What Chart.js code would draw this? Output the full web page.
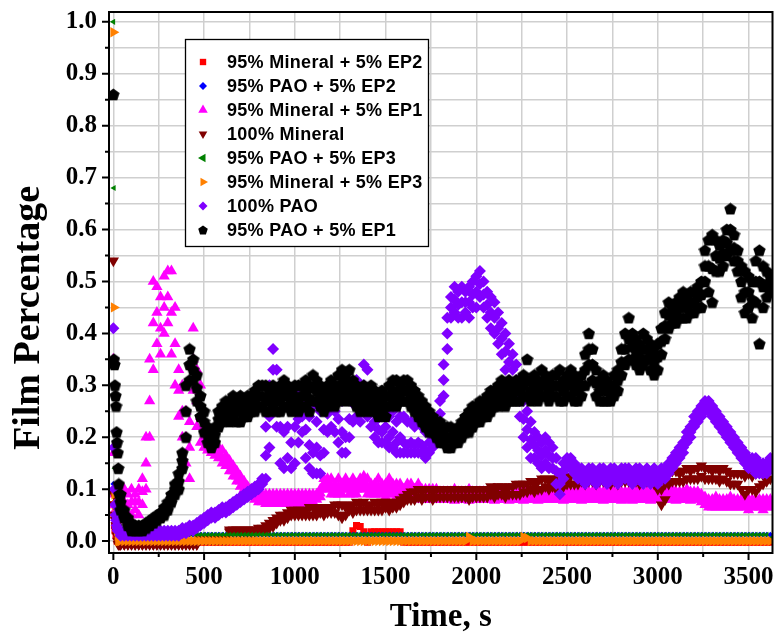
<!DOCTYPE html>
<html><head><meta charset="utf-8">
<script src="https://cdn.jsdelivr.net/npm/chart.js@4.4.1/dist/chart.umd.min.js"></script>
<style>html,body{margin:0;padding:0;background:#fff;}#wrap{width:779px;height:637px;}</style>
</head><body><div id="wrap"><canvas id="c" width="779" height="637"></canvas></div>
<script>
// ---------- DATA ----------
const xTickValues = [0,250,500,750,1000,1250,1500,1750,2000,2250,2500,2750,3000,3250,3500];
const yTickValues = [0,0.05,0.1,0.15,0.2,0.25,0.3,0.35,0.4,0.45,0.5,0.55,0.6,0.65,0.7,0.75,0.8,0.85,0.9,0.95,1.0];
const xTitle = 'Time, s';
const yTitle = 'Film Percentage';

const earlyTime = [0,3,6,9,12,15,18,21,24,27,30,33];
const earlyBlack   = [0.86,0.35,0.34,0.30,0.28,0.26,0.21,0.19,0.17,0.14,0.11,0.09];
const earlyPurple  = [0.41,0.18,0.10,0.07,0.05,0.04,0.03,0.025,0.02,0.02,0.02,0.02];
const earlyOrange  = [0.98,0.45,0.09,0.07,0.05,0.04,0.03,0.02,0.01,0.0,0.0,0.0];
const earlyGreen   = [1.00,0.68,0.30,0.14,0.10,0.07,0.05,0.04,0.03,0.02,0.015,0.012];
const earlyBrown   = [0.54,0.09,0.07,0.05,0.04,0.03,0.02,0.01,0.0,-0.006,-0.006,-0.006];
const earlyMagenta = [0.35,0.17,0.09,0.07,0.06,0.05,0.04,0.04,0.05,0.06,0.07,0.08];
const earlyBlue    = [0.11,0.07,0.05,0.04,0.03,0.02,0.02,0.015,0.012,0.012,0.012,0.012];
const earlyRed     = [0.07,0.05,0.03,0.02,0.02,0.01,0.01,0.0,0.0,0.0,0.0,0.0];

const time = [40,60,80,100,120,140,160,180,200,220,
240,260,280,300,320,340,360,380,400,420,
440,460,480,500,520,540,560,580,600,620,
640,660,680,700,720,740,760,780,800,820,
840,860,880,900,920,940,960,980,1000,1020,
1040,1060,1080,1100,1120,1140,1160,1180,1200,1220,
1240,1260,1280,1300,1320,1340,1360,1380,1400,1420,
1440,1460,1480,1500,1520,1540,1560,1580,1600,1620,
1640,1660,1680,1700,1720,1740,1760,1780,1800,1820,
1840,1860,1880,1900,1920,1940,1960,1980,2000,2020,
2040,2060,2080,2100,2120,2140,2160,2180,2200,2220,
2240,2260,2280,2300,2320,2340,2360,2380,2400,2420,
2440,2460,2480,2500,2520,2540,2560,2580,2600,2620,
2640,2660,2680,2700,2720,2740,2760,2780,2800,2820,
2840,2860,2880,2900,2920,2940,2960,2980,3000,3020,
3040,3060,3080,3100,3120,3140,3160,3180,3200,3220,
3240,3260,3280,3300,3320,3340,3360,3380,3400,3420,
3440,3460,3480,3500,3520,3540,3560,3580,3600,3620];

const blackHi = [0.09,0.06,0.045,0.035,0.03,0.03,0.03,0.035,0.04,0.045,
0.05,0.055,0.065,0.075,0.09,0.11,0.13,0.17,0.30,0.37,
0.35,0.32,0.28,0.25,0.22,0.21,0.22,0.25,0.26,0.27,
0.27,0.28,0.27,0.28,0.27,0.28,0.28,0.29,0.30,0.30,
0.30,0.29,0.30,0.29,0.30,0.31,0.30,0.29,0.30,0.30,
0.30,0.31,0.30,0.32,0.31,0.30,0.29,0.30,0.31,0.30,
0.32,0.33,0.32,0.33,0.31,0.30,0.29,0.30,0.29,0.30,
0.29,0.28,0.29,0.28,0.30,0.31,0.31,0.30,0.31,0.31,
0.30,0.29,0.28,0.27,0.26,0.25,0.24,0.23,0.23,0.22,
0.22,0.22,0.21,0.22,0.23,0.24,0.25,0.26,0.26,0.27,
0.27,0.28,0.29,0.29,0.30,0.31,0.30,0.31,0.30,0.31,
0.31,0.32,0.35,0.31,0.32,0.31,0.33,0.32,0.31,0.32,
0.32,0.33,0.31,0.32,0.33,0.32,0.31,0.32,0.36,0.40,
0.37,0.33,0.31,0.32,0.31,0.30,0.32,0.33,0.37,0.40,
0.43,0.40,0.39,0.38,0.40,0.39,0.38,0.37,0.38,0.41,
0.44,0.46,0.45,0.46,0.47,0.48,0.47,0.48,0.48,0.49,
0.50,0.56,0.58,0.59,0.58,0.57,0.58,0.60,0.64,0.59,
0.56,0.53,0.52,0.51,0.50,0.54,0.56,0.53,0.52,0.51];
const blackMid = [0.075,0.05,0.038,0.028,0.025,0.025,0.025,0.03,0.035,0.04,
0.045,0.05,0.058,0.068,0.082,0.10,0.115,0.155,0.25,0.34,
0.33,0.295,0.26,0.23,0.205,0.195,0.205,0.235,0.245,0.255,
0.25,0.26,0.25,0.255,0.255,0.26,0.265,0.27,0.28,0.28,
0.275,0.27,0.28,0.27,0.275,0.285,0.28,0.27,0.28,0.275,
0.28,0.285,0.275,0.295,0.29,0.28,0.27,0.28,0.29,0.28,
0.295,0.305,0.295,0.305,0.29,0.28,0.27,0.28,0.27,0.28,
0.27,0.26,0.27,0.26,0.28,0.29,0.285,0.285,0.29,0.29,
0.28,0.27,0.26,0.25,0.24,0.23,0.225,0.215,0.21,0.205,
0.20,0.20,0.20,0.205,0.215,0.225,0.23,0.24,0.245,0.25,
0.255,0.26,0.27,0.275,0.28,0.29,0.28,0.29,0.285,0.29,
0.29,0.30,0.31,0.29,0.30,0.29,0.305,0.30,0.29,0.30,
0.30,0.30,0.29,0.30,0.305,0.295,0.29,0.30,0.33,0.37,
0.34,0.305,0.29,0.295,0.29,0.285,0.30,0.31,0.345,0.37,
0.39,0.375,0.365,0.355,0.37,0.37,0.355,0.345,0.355,0.385,
0.415,0.435,0.435,0.44,0.45,0.455,0.45,0.46,0.46,0.47,
0.475,0.53,0.53,0.525,0.55,0.545,0.555,0.575,0.60,0.565,
0.54,0.50,0.48,0.48,0.465,0.50,0.50,0.49,0.495,0.495];
const blackLo = [0.06,0.045,0.03,0.02,0.02,0.02,0.02,0.025,0.03,0.035,
0.04,0.045,0.05,0.06,0.075,0.09,0.10,0.14,0.20,0.31,
0.31,0.27,0.24,0.21,0.19,0.18,0.19,0.22,0.23,0.24,
0.23,0.24,0.23,0.23,0.24,0.24,0.25,0.25,0.26,0.26,
0.25,0.25,0.26,0.25,0.25,0.26,0.26,0.25,0.26,0.25,
0.26,0.26,0.25,0.27,0.27,0.26,0.25,0.26,0.27,0.26,
0.27,0.28,0.27,0.28,0.27,0.26,0.25,0.26,0.25,0.26,
0.25,0.24,0.25,0.24,0.26,0.27,0.26,0.27,0.27,0.27,
0.26,0.25,0.24,0.23,0.22,0.21,0.21,0.20,0.19,0.19,
0.18,0.18,0.19,0.19,0.20,0.21,0.21,0.22,0.23,0.23,
0.24,0.24,0.25,0.26,0.26,0.27,0.26,0.27,0.27,0.27,
0.27,0.28,0.28,0.27,0.28,0.27,0.28,0.28,0.27,0.28,
0.28,0.27,0.27,0.28,0.28,0.27,0.27,0.28,0.30,0.34,
0.31,0.28,0.27,0.27,0.27,0.27,0.28,0.29,0.32,0.34,
0.35,0.35,0.34,0.33,0.34,0.35,0.33,0.32,0.33,0.36,
0.39,0.41,0.42,0.42,0.43,0.43,0.43,0.44,0.44,0.45,
0.45,0.50,0.48,0.46,0.52,0.52,0.53,0.55,0.56,0.54,
0.52,0.47,0.44,0.45,0.43,0.46,0.38,0.45,0.47,0.48];

const purpleHi = [0.02,0.02,0.02,0.02,0.02,0.02,0.02,0.02,0.02,0.02,
0.02,0.02,0.02,0.02,0.02,0.02,0.02,0.025,0.025,0.03,
0.03,0.035,0.04,0.045,0.05,0.055,0.055,0.06,0.065,0.065,
0.07,0.075,0.08,0.085,0.09,0.095,0.10,0.105,0.11,0.12,
0.22,0.30,0.37,0.33,0.30,0.29,0.28,0.26,0.29,0.28,
0.27,0.26,0.24,0.26,0.23,0.25,0.27,0.29,0.30,0.29,
0.28,0.27,0.28,0.29,0.30,0.31,0.30,0.34,0.33,0.28,
0.26,0.25,0.24,0.25,0.24,0.25,0.23,0.24,0.24,0.23,
0.23,0.22,0.23,0.22,0.21,0.22,0.22,0.22,0.27,0.34,
0.43,0.47,0.49,0.48,0.49,0.48,0.49,0.50,0.51,0.52,
0.50,0.48,0.47,0.46,0.44,0.42,0.40,0.38,0.36,0.34,
0.30,0.27,0.25,0.23,0.21,0.20,0.19,0.20,0.19,0.18,
0.16,0.13,0.15,0.16,0.16,0.15,0.14,0.14,0.13,0.14,
0.14,0.13,0.14,0.14,0.13,0.14,0.14,0.13,0.14,0.14,
0.14,0.13,0.14,0.14,0.13,0.14,0.13,0.14,0.13,0.14,
0.14,0.15,0.16,0.17,0.18,0.19,0.21,0.22,0.24,0.25,
0.26,0.27,0.27,0.26,0.25,0.24,0.23,0.22,0.21,0.20,
0.19,0.18,0.17,0.16,0.16,0.16,0.15,0.15,0.15,0.16];
const purpleMid = [0.015,0.015,0.015,0.015,0.015,0.015,0.015,0.015,0.015,0.015,
0.015,0.015,0.015,0.015,0.015,0.015,0.015,0.02,0.02,0.025,
0.025,0.03,0.035,0.04,0.045,0.05,0.05,0.055,0.06,0.06,
0.065,0.07,0.075,0.08,0.085,0.09,0.095,0.10,0.105,0.115,
0.165,0.24,0.33,0.285,0.22,0.21,0.22,0.19,0.22,0.235,
0.24,0.215,0.185,0.17,0.18,0.165,0.215,0.245,0.26,0.25,
0.235,0.21,0.20,0.235,0.265,0.28,0.27,0.30,0.28,0.255,
0.23,0.215,0.21,0.22,0.20,0.21,0.19,0.20,0.19,0.185,
0.19,0.185,0.19,0.185,0.175,0.19,0.20,0.205,0.245,0.31,
0.40,0.45,0.465,0.455,0.46,0.46,0.46,0.475,0.48,0.495,
0.475,0.455,0.44,0.43,0.41,0.39,0.365,0.345,0.33,0.31,
0.27,0.235,0.215,0.195,0.185,0.175,0.165,0.175,0.165,0.16,
0.135,0.11,0.135,0.15,0.15,0.14,0.13,0.13,0.12,0.13,
0.13,0.12,0.13,0.13,0.12,0.13,0.13,0.12,0.13,0.13,
0.13,0.12,0.13,0.13,0.12,0.13,0.12,0.13,0.12,0.13,
0.13,0.14,0.15,0.16,0.17,0.18,0.20,0.21,0.23,0.24,
0.25,0.26,0.26,0.25,0.24,0.23,0.22,0.21,0.20,0.19,
0.18,0.17,0.16,0.15,0.15,0.145,0.14,0.14,0.14,0.15];
const purpleLo = [0.01,0.01,0.01,0.01,0.01,0.01,0.01,0.01,0.01,0.01,
0.01,0.01,0.01,0.01,0.01,0.01,0.01,0.015,0.015,0.02,
0.02,0.025,0.03,0.035,0.04,0.045,0.045,0.05,0.055,0.055,
0.06,0.065,0.07,0.075,0.08,0.085,0.09,0.095,0.10,0.11,
0.12,0.18,0.28,0.22,0.15,0.14,0.16,0.14,0.15,0.19,
0.21,0.16,0.14,0.13,0.13,0.13,0.17,0.21,0.22,0.21,
0.19,0.17,0.17,0.20,0.23,0.24,0.23,0.25,0.24,0.22,
0.20,0.19,0.19,0.19,0.18,0.18,0.17,0.17,0.17,0.17,
0.17,0.17,0.17,0.17,0.16,0.17,0.18,0.19,0.22,0.28,
0.37,0.43,0.44,0.43,0.43,0.44,0.43,0.45,0.45,0.47,
0.45,0.43,0.41,0.40,0.38,0.36,0.33,0.31,0.30,0.28,
0.24,0.20,0.18,0.16,0.16,0.15,0.14,0.15,0.14,0.14,
0.11,0.09,0.12,0.14,0.14,0.13,0.12,0.12,0.11,0.12,
0.12,0.11,0.12,0.12,0.11,0.12,0.12,0.11,0.12,0.12,
0.12,0.11,0.12,0.12,0.11,0.12,0.11,0.12,0.11,0.12,
0.12,0.13,0.14,0.15,0.16,0.17,0.19,0.20,0.22,0.23,
0.24,0.25,0.25,0.24,0.23,0.22,0.21,0.20,0.19,0.18,
0.17,0.16,0.15,0.14,0.14,0.13,0.13,0.13,0.13,0.14];

const magentaHi = [0.10,0.10,0.09,0.10,0.09,0.10,0.12,0.20,0.35,0.50,
0.49,0.47,0.51,0.52,0.52,0.45,0.33,0.30,0.25,0.23,
0.41,0.33,0.30,0.22,0.21,0.20,0.19,0.18,0.175,0.165,
0.155,0.145,0.135,0.125,0.115,0.105,0.10,0.095,0.09,0.09,
0.09,0.09,0.09,0.09,0.09,0.09,0.09,0.09,0.09,0.09,
0.09,0.09,0.09,0.09,0.09,0.10,0.12,0.12,0.12,0.11,
0.12,0.11,0.12,0.11,0.12,0.11,0.12,0.125,0.12,0.11,
0.11,0.12,0.11,0.11,0.12,0.11,0.11,0.11,0.10,0.11,
0.11,0.10,0.11,0.10,0.10,0.10,0.10,0.10,0.095,0.095,
0.095,0.095,0.10,0.095,0.095,0.095,0.10,0.095,0.095,0.095,
0.095,0.095,0.095,0.10,0.095,0.095,0.095,0.10,0.095,0.095,
0.095,0.10,0.095,0.095,0.10,0.095,0.095,0.095,0.10,0.095,
0.095,0.095,0.10,0.095,0.095,0.095,0.095,0.10,0.095,0.095,
0.095,0.10,0.095,0.095,0.095,0.10,0.095,0.095,0.095,0.095,
0.095,0.095,0.095,0.10,0.095,0.095,0.095,0.095,0.10,0.095,
0.095,0.095,0.10,0.095,0.095,0.095,0.10,0.095,0.095,0.095,
0.09,0.085,0.08,0.08,0.085,0.08,0.08,0.08,0.085,0.08,
0.08,0.08,0.085,0.08,0.08,0.08,0.08,0.08,0.08,0.08];
const magentaMid = [0.08,0.075,0.07,0.075,0.075,0.075,0.095,0.15,0.27,0.42,
0.44,0.41,0.45,0.47,0.44,0.38,0.29,0.25,0.20,0.18,
0.35,0.27,0.24,0.20,0.19,0.185,0.18,0.17,0.16,0.155,
0.145,0.135,0.125,0.115,0.108,0.098,0.092,0.088,0.083,0.083,
0.083,0.083,0.083,0.083,0.083,0.083,0.083,0.083,0.083,0.083,
0.083,0.083,0.083,0.083,0.085,0.092,0.11,0.11,0.105,0.10,
0.105,0.10,0.11,0.10,0.105,0.10,0.11,0.112,0.105,0.10,
0.10,0.105,0.10,0.098,0.105,0.10,0.098,0.098,0.093,0.098,
0.098,0.093,0.098,0.09,0.09,0.09,0.09,0.09,0.088,0.088,
0.088,0.088,0.088,0.088,0.088,0.088,0.088,0.088,0.088,0.088,
0.088,0.088,0.088,0.088,0.088,0.088,0.088,0.088,0.088,0.088,
0.088,0.088,0.088,0.088,0.088,0.088,0.088,0.088,0.088,0.088,
0.088,0.088,0.088,0.088,0.088,0.088,0.088,0.088,0.088,0.088,
0.088,0.088,0.088,0.088,0.088,0.088,0.088,0.088,0.088,0.088,
0.088,0.088,0.088,0.088,0.088,0.088,0.088,0.088,0.088,0.088,
0.088,0.088,0.088,0.088,0.088,0.088,0.088,0.088,0.088,0.088,
0.083,0.078,0.073,0.073,0.073,0.073,0.073,0.073,0.073,0.073,
0.073,0.073,0.073,0.07,0.073,0.073,0.073,0.068,0.073,0.073];
const magentaLo = [0.06,0.05,0.05,0.05,0.06,0.05,0.07,0.10,0.20,0.33,
0.38,0.36,0.40,0.42,0.36,0.30,0.24,0.20,0.15,0.12,
0.29,0.22,0.19,0.18,0.175,0.17,0.165,0.16,0.15,0.145,
0.135,0.125,0.115,0.105,0.10,0.09,0.085,0.08,0.075,0.075,
0.072,0.072,0.072,0.072,0.072,0.072,0.072,0.072,0.072,0.072,
0.072,0.072,0.075,0.075,0.08,0.085,0.10,0.10,0.09,0.09,
0.09,0.09,0.10,0.09,0.09,0.09,0.10,0.10,0.09,0.09,
0.09,0.09,0.09,0.085,0.09,0.09,0.085,0.085,0.085,0.085,
0.085,0.085,0.085,0.08,0.08,0.08,0.08,0.08,0.08,0.08,
0.08,0.08,0.078,0.08,0.08,0.08,0.078,0.08,0.08,0.08,
0.08,0.08,0.08,0.078,0.08,0.08,0.08,0.078,0.08,0.08,
0.08,0.078,0.08,0.08,0.08,0.078,0.08,0.08,0.08,0.08,
0.08,0.08,0.078,0.08,0.08,0.08,0.08,0.078,0.08,0.08,
0.08,0.08,0.08,0.078,0.08,0.08,0.08,0.08,0.078,0.08,
0.08,0.078,0.08,0.08,0.08,0.08,0.078,0.08,0.08,0.08,
0.08,0.08,0.08,0.078,0.08,0.08,0.08,0.078,0.08,0.08,
0.075,0.07,0.065,0.065,0.065,0.065,0.065,0.065,0.065,0.065,
0.065,0.065,0.065,0.06,0.065,0.065,0.065,0.06,0.065,0.065];

const brownHi = [-0.006,-0.006,-0.006,-0.006,-0.006,-0.006,-0.006,-0.006,-0.006,-0.006,
-0.006,-0.006,-0.006,-0.006,-0.006,-0.006,-0.006,-0.006,-0.006,-0.006,
-0.006,-0.006,0.004,0.004,0.004,0.004,0.004,0.004,0.004,0.004,
0.022,0.022,0.022,0.022,0.022,0.022,0.022,0.022,0.025,0.025,
0.03,0.035,0.04,0.045,0.05,0.05,0.055,0.06,0.06,0.06,
0.06,0.06,0.065,0.065,0.06,0.065,0.06,0.065,0.065,0.07,
0.07,0.07,0.065,0.07,0.07,0.075,0.07,0.075,0.07,0.07,
0.075,0.07,0.075,0.075,0.07,0.075,0.075,0.08,0.085,0.09,
0.095,0.095,0.10,0.095,0.10,0.10,0.095,0.10,0.10,0.10,
0.10,0.10,0.10,0.10,0.10,0.10,0.10,0.10,0.10,0.10,
0.10,0.10,0.105,0.10,0.105,0.105,0.10,0.105,0.105,0.11,
0.11,0.11,0.11,0.115,0.11,0.115,0.12,0.12,0.115,0.12,
0.12,0.12,0.125,0.12,0.125,0.13,0.125,0.13,0.13,0.13,
0.13,0.13,0.135,0.13,0.135,0.13,0.135,0.13,0.135,0.13,
0.135,0.13,0.135,0.13,0.135,0.13,0.135,0.13,0.13,0.10,
0.11,0.13,0.135,0.135,0.13,0.135,0.14,0.135,0.14,0.14,
0.145,0.14,0.14,0.135,0.14,0.135,0.14,0.135,0.13,0.13,
0.13,0.13,0.125,0.13,0.125,0.13,0.135,0.13,0.135,0.14];
const brownLo = [-0.006,-0.006,-0.006,-0.006,-0.006,-0.006,-0.006,-0.006,-0.006,-0.006,
-0.006,-0.006,-0.006,-0.006,-0.006,-0.006,-0.006,-0.006,-0.006,-0.006,
-0.006,-0.006,0.004,0.004,0.004,0.004,0.004,0.004,0.004,0.004,
0.018,0.018,0.018,0.018,0.018,0.018,0.018,0.018,0.02,0.02,
0.02,0.025,0.028,0.035,0.04,0.04,0.045,0.05,0.05,0.05,
0.05,0.05,0.05,0.05,0.05,0.055,0.05,0.055,0.055,0.055,
0.05,0.045,0.05,0.06,0.055,0.06,0.06,0.06,0.06,0.06,
0.06,0.06,0.06,0.065,0.06,0.065,0.065,0.07,0.075,0.08,
0.08,0.08,0.085,0.08,0.085,0.085,0.08,0.085,0.085,0.085,
0.085,0.085,0.085,0.085,0.085,0.085,0.08,0.085,0.085,0.085,
0.085,0.085,0.09,0.085,0.09,0.09,0.085,0.09,0.09,0.09,
0.09,0.095,0.095,0.10,0.095,0.10,0.10,0.105,0.10,0.105,
0.10,0.105,0.105,0.11,0.11,0.11,0.11,0.115,0.11,0.115,
0.115,0.11,0.115,0.115,0.115,0.11,0.115,0.11,0.115,0.115,
0.115,0.115,0.115,0.11,0.115,0.115,0.115,0.11,0.10,0.07,
0.08,0.11,0.115,0.115,0.115,0.115,0.12,0.12,0.12,0.12,
0.125,0.12,0.12,0.12,0.12,0.115,0.12,0.115,0.11,0.11,
0.11,0.10,0.09,0.10,0.10,0.095,0.105,0.11,0.115,0.12];

const greenVals = [0.012,0.012,0.012,0.012,0.012,0.012,0.012,0.012,0.012,0.012,
0.012,0.012,0.012,0.012,0.012,0.012,0.012,0.012,0.012,0.012,
0.012,0.012,0.012,0.012,0.012,0.012,0.012,0.012,0.012,0.012,
0.012,0.012,0.012,0.012,0.012,0.012,0.012,0.012,0.012,0.012,
0.012,0.012,0.012,0.012,0.012,0.012,0.012,0.012,0.012,0.012,
0.012,0.012,0.012,0.012,0.012,0.012,0.012,0.012,0.012,0.012,
0.012,0.012,0.012,0.012,0.012,0.012,0.012,0.012,0.012,0.012,
0.012,0.012,0.012,0.012,0.012,0.012,0.012,0.012,0.012,0.012,
0.012,0.012,0.012,0.012,0.012,0.012,0.012,0.012,0.012,0.012,
0.012,0.012,0.012,0.012,0.012,0.012,0.012,0.012,0.012,0.012,
0.012,0.012,0.012,0.012,0.012,0.012,0.012,0.012,0.012,0.012,
0.012,0.012,0.012,0.012,0.012,0.012,0.012,0.012,0.012,0.012,
0.012,0.012,0.012,0.012,0.012,0.012,0.012,0.012,0.012,0.012,
0.012,0.012,0.012,0.012,0.012,0.012,0.012,0.012,0.012,0.012,
0.012,0.012,0.012,0.012,0.012,0.012,0.012,0.012,0.012,0.012,
0.012,0.012,0.012,0.012,0.012,0.012,0.012,0.012,0.012,0.012,
0.012,0.012,0.012,0.012,0.012,0.012,0.012,0.012,0.012,0.012,
0.012,0.012,0.012,0.012,0.012,0.012,0.012,0.012,0.012,0.005];
const orangeVals = [0,0,0,0,0,0,0,0,0,0,
0,0,0,0,0,0,0,0,0,0,
0,0,0,0,0,0,0,0,0,0,
0,0,0,0,0,0,0,0,0,0,
0,0,0,0,0,0,0,0,0,0,
0,0,0,0,0,0,0,0,0,0,
0,0,0,0,0,0,0,0,0,0,
0,0,0,0,0,0,0,0,0,0,
0,0,0,0,0,0,0,0,0,0,
0,0,0,0,0,0,0.008,0,0,0,
0,0,0,0,0,0,0,0,0,0,
0,0.008,0.006,0,0,0,0,0,0,0,
0,0,0,0,0,0,0,0,0,0,
0,0,0,0,0,0,0,0,0,0,
0,0,0,0,0,0,0,0,0,0,
0,0,0,0,0,0,0,0,0,0,
0,0,0,0,0,0,0,0,0,0,
0,0,0,0,0,0,0,0,0,0];
const blueVals = [0.012,0.012,0.012,0.012,0.012,0.012,0.012,0.012,0.012,0.012,
0.012,0.012,0.012,0.012,0.012,0.012,0.012,0.012,0.012,0.012,
0.012,0.012,0.012,0.012,0.012,0.012,0.012,0.012,0.012,0.012,
0.012,0.012,0.012,0.012,0.012,0.012,0.012,0.012,0.012,0.012,
0.012,0.012,0.012,0.012,0.012,0.012,0.012,0.012,0.012,0.012,
0.012,0.012,0.012,0.012,0.012,0.012,0.012,0.012,0.012,0.012,
0.012,0.012,0.012,0.012,0.012,0.012,0.012,0.012,0.012,0.012,
0.012,0.012,0.012,0.012,0.012,0.012,0.012,0.012,0.012,0.012,
0.012,0.012,0.012,0.012,0.012,0.012,0.012,0.012,0.012,0.012,
0.012,0.012,0.012,0.012,0.012,0.012,0.012,0.012,0.012,0.012,
0.012,0.012,0.012,0.012,0.012,0.012,0.012,0.012,0.012,0.012,
0.012,0.012,0.012,0.012,0.012,0.012,0.012,0.012,0.012,0.012,
0.012,0.012,0.012,0.012,0.012,0.012,0.012,0.012,0.012,0.012,
0.012,0.012,0.012,0.012,0.012,0.012,0.012,0.012,0.012,0.012,
0.012,0.012,0.012,0.012,0.012,0.012,0.012,0.012,0.012,0.012,
0.012,0.012,0.012,0.012,0.012,0.012,0.012,0.012,0.012,0.012,
0.012,0.012,0.012,0.012,0.012,0.012,0.012,0.012,0.012,0.012,
0.012,0.012,0.012,0.012,0.012,0.012,0.012,0.012,0.012,0.012];
const redVals = [-0.002,-0.002,-0.002,-0.002,-0.002,-0.002,-0.002,-0.002,-0.002,-0.002,
-0.002,-0.002,-0.002,-0.002,-0.002,-0.002,-0.002,-0.002,-0.002,-0.002,
-0.002,-0.002,-0.002,-0.002,-0.002,-0.002,-0.002,-0.002,-0.002,-0.002,
-0.002,-0.002,-0.002,-0.002,-0.002,-0.002,-0.002,-0.002,-0.002,-0.002,
-0.002,-0.002,-0.002,-0.002,-0.002,-0.002,-0.002,-0.002,-0.002,-0.002,
-0.002,-0.002,-0.002,-0.002,-0.002,-0.002,-0.002,-0.002,-0.002,-0.002,
-0.002,-0.002,-0.002,-0.002,0.02,0.03,0.028,0.018,-0.002,0.018,
0.018,0.018,0.018,0.018,0.018,0.018,0.018,0.018,-0.002,-0.002,
-0.002,-0.002,-0.002,-0.002,-0.002,-0.002,-0.002,-0.002,-0.002,-0.002,
-0.002,-0.002,-0.002,-0.002,-0.002,-0.002,-0.002,-0.002,-0.002,-0.002,
-0.002,-0.002,-0.002,-0.002,-0.002,-0.002,-0.002,-0.002,-0.002,-0.002,
-0.002,-0.002,-0.002,-0.002,-0.002,-0.002,-0.002,-0.002,-0.002,-0.002,
-0.002,-0.002,-0.002,-0.002,-0.002,-0.002,-0.002,-0.002,-0.002,-0.002,
-0.002,-0.002,-0.002,-0.002,-0.002,-0.002,-0.002,-0.002,-0.002,-0.002,
-0.002,-0.002,-0.002,-0.002,-0.002,-0.002,-0.002,-0.002,-0.002,-0.002,
-0.002,-0.002,-0.002,-0.002,-0.002,-0.002,-0.002,-0.002,-0.002,-0.002,
-0.002,-0.002,-0.002,-0.002,-0.002,-0.002,-0.002,-0.002,-0.002,-0.002,
-0.002,-0.002,-0.002,-0.002,-0.002,-0.002,-0.002,-0.002,-0.002,-0.002];

// ---------- STYLE ----------
function makePentagon(size, color) {
  const c = document.createElement('canvas');
  c.width = size; c.height = size;
  const g = c.getContext('2d');
  g.fillStyle = color;
  g.beginPath();
  const r = size / 2, cx = size / 2, cy = size / 2 + size * 0.04;
  for (let i = 0; i < 5; i++) {
    const a = -Math.PI / 2 + i * 2 * Math.PI / 5;
    const px = cx + r * Math.cos(a), py = cy + r * Math.sin(a);
    if (i === 0) g.moveTo(px, py); else g.lineTo(px, py);
  }
  g.closePath(); g.fill();
  return c;
}
const PENT = makePentagon(13, '#000000');
const PENT_SMALL = makePentagon(10, '#000000');

// first entry is drawn on top
const seriesDefs = [
  {label:'95% PAO + 5% EP1',     color:'#000000', style:PENT,      legendStyle:PENT_SMALL, rot:0,   r:6.5, lr:5,   early:earlyBlack,   values:[blackLo, blackMid, blackHi]},
  {label:'100% PAO',             color:'#8000ff', style:'rectRot', rot:0,   r:6,   lr:4.5, early:earlyPurple,  values:[purpleLo, purpleMid, purpleHi]},
  {label:'95% Mineral + 5% EP3', color:'#ff8000', style:'triangle',rot:90,  r:6,   lr:5,   early:earlyOrange,  values:[orangeVals]},
  {label:'95% PAO + 5% EP3',     color:'#008000', style:'triangle',rot:270, r:3.5, lr:5,   early:earlyGreen,   values:[greenVals]},
  {label:'100% Mineral',         color:'#800000', style:'triangle',rot:180, r:6.5, lr:5,   early:earlyBrown,   values:[brownLo, brownHi]},
  {label:'95% Mineral + 5% EP1', color:'#ff00ff', style:'triangle',rot:0,   r:6.5, lr:5.5, early:earlyMagenta, values:[magentaLo, magentaMid, magentaHi]},
  {label:'95% PAO + 5% EP2',     color:'#0000ff', style:'rectRot', rot:0,   r:3,   lr:4,   early:earlyBlue,    values:[blueVals]},
  {label:'95% Mineral + 5% EP2', color:'#ff0000', style:'rect',    rot:0,   r:5,   lr:4.5, early:earlyRed,     values:[redVals]}
];

const datasets = seriesDefs.map(s => {
  const data = [];
  s.early.forEach((v, i) => data.push({x: earlyTime[i], y: v}));
  s.values.forEach(arr => arr.forEach((v, i) => data.push({x: time[i], y: v})));
  return {
    label: s.label, data, showLine: false,
    pointStyle: s.style, pointRotation: s.rot, pointRadius: s.r, pointHoverRadius: s.r,
    pointBackgroundColor: s.color, pointBorderColor: s.color, pointBorderWidth: 0
  };
});

const serif = '"Liberation Serif", "Times New Roman", serif';

const decor = {
  id: 'decor',
  afterDraw(chart) {
    const {ctx, chartArea: a, scales: {x, y}} = chart;
    ctx.save();
    ctx.strokeStyle = '#000'; ctx.lineWidth = 2;
    ctx.beginPath();
    xTickValues.forEach(v => {
      const px = x.getPixelForValue(v);
      const len = (v % 500 === 0) ? 7 : 4;
      ctx.moveTo(px, a.bottom); ctx.lineTo(px, a.bottom + len);
    });
    yTickValues.forEach(v => {
      const py = y.getPixelForValue(v);
      const len = (Math.round(v * 100) % 10 === 0) ? 7 : 4;
      ctx.moveTo(a.left, py); ctx.lineTo(a.left - len, py);
    });
    ctx.stroke();
    ctx.lineWidth = 2;
    ctx.strokeRect(a.left, a.top, a.right - a.left, a.bottom - a.top);

    // y axis title (sits lower than the plot centre in the reference)
    ctx.save();
    ctx.translate(29, 318);
    ctx.rotate(-Math.PI / 2);
    ctx.fillStyle = '#000';
    ctx.font = 'bold 38px ' + serif;
    ctx.textAlign = 'center'; ctx.textBaseline = 'middle';
    ctx.fillText(yTitle, 0, 0);
    ctx.restore();

    // legend box
    ctx.fillStyle = '#ffffff';
    ctx.fillRect(185, 39, 243, 207);
    ctx.lineWidth = 1.3; ctx.strokeStyle = '#000';
    ctx.strokeRect(185.5, 39.5, 243, 207);
    const order = seriesDefs.slice().reverse();
    ctx.font = 'bold 18px "Liberation Sans", Arial, sans-serif';
    try { ctx.letterSpacing = '0.3px'; } catch (e) {}
    ctx.textBaseline = 'middle'; ctx.textAlign = 'left';
    order.forEach((s, i) => {
      const yy = 62 + i * 24;
      ctx.fillStyle = s.color; ctx.strokeStyle = s.color;
      Chart.helpers.drawPoint(ctx, {pointStyle: s.legendStyle || s.style, rotation: s.rot, radius: s.lr, borderWidth: 0}, 203, yy);
      ctx.fillStyle = '#000';
      ctx.fillText(s.label, 227, yy + 1);
    });
    ctx.restore();
  }
};

const tickFont = {family: serif, weight: 'bold', size: 25};

new Chart(document.getElementById('c'), {
  type: 'scatter',
  data: {datasets},
  options: {
    responsive: false, animation: false, devicePixelRatio: 1,
    layout: {padding: {top: 12, right: 4, left: 0, bottom: 0}},
    plugins: {legend: {display: false}, tooltip: {enabled: false}},
    scales: {
      x: {
        type: 'linear', min: -24, max: 3632,
        afterBuildTicks: s => { s.ticks = xTickValues.map(v => ({value: v})); },
        afterFit: s => { s.height = 84; s.paddingLeft = 0; s.paddingRight = 0; },
        ticks: {autoSkip: false, maxRotation: 0, padding: 10, color: '#000', font: tickFont,
          callback: v => (v % 500 === 0 ? String(v) : '')},
        grid: {color: '#cfcfcf', lineWidth: 1.5, drawTicks: false},
        border: {display: false},
        title: {display: true, text: xTitle, color: '#000',
          font: {family: serif, weight: 'bold', size: 33},
          padding: {top: 0, bottom: 0}}
      },
      y: {
        type: 'linear', min: -0.023, max: 1.019,
        afterBuildTicks: s => { s.ticks = yTickValues.map(v => ({value: v})); },
        afterFit: s => { s.width = 109; s.paddingTop = 0; s.paddingBottom = 0; },
        ticks: {autoSkip: false, padding: 12, color: '#000', font: tickFont,
          callback: v => (Math.round(v * 100) % 10 === 0 ? v.toFixed(1) : '')},
        grid: {color: '#cfcfcf', lineWidth: 1.5, drawTicks: false},
        border: {display: false},
        title: {display: false, text: yTitle}
      }
    }
  },
  plugins: [decor]
});
</script>
</body></html>
